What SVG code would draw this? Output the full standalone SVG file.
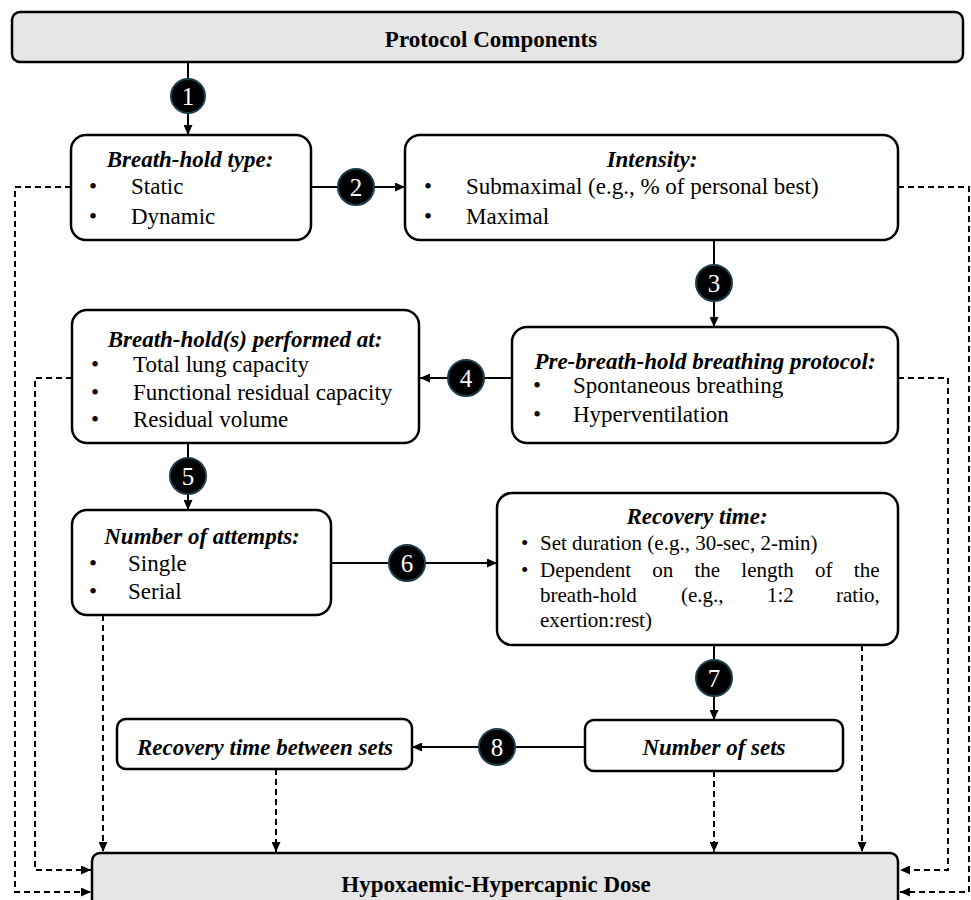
<svg xmlns="http://www.w3.org/2000/svg" width="971" height="900" viewBox="0 0 971 900">
<defs>
<marker id="ah" markerWidth="10" markerHeight="9" refX="10" refY="4.5" orient="auto" markerUnits="userSpaceOnUse">
<path d="M0,0 L10,4.5 L0,9 z" fill="#000"/>
</marker>
</defs>
<style>
.box{fill:#fff;stroke:#000;stroke-width:2.5}
.gbox{fill:#e6e6e6;stroke:#000;stroke-width:2.5}
.t{font-family:"Liberation Serif","Times New Roman",serif;font-size:23px;fill:#000}
.s{font-size:21px}
.h{font-weight:bold;font-style:italic}
.b{font-weight:bold}
.m{text-anchor:middle}
.ln{fill:none;stroke:#000;stroke-width:2;marker-end:url(#ah)}
.dl{fill:none;stroke:#000;stroke-width:2;stroke-dasharray:6 4;marker-end:url(#ah)}
.bd circle{fill:#000;stroke:#1e3d4a;stroke-width:2}
.bd text{font-family:"Liberation Serif","Times New Roman",serif;font-size:25px;fill:#fff;text-anchor:middle}
</style>
<g id="connectors">
<path class="ln" d="M188,62 V135"/>
<path class="ln" d="M311,187 H405"/>
<path class="ln" d="M714,240 V327"/>
<path class="ln" d="M512,378 H420"/>
<path class="ln" d="M188,443 V510"/>
<path class="ln" d="M331,563 H497"/>
<path class="ln" d="M714,645 V720"/>
<path class="ln" d="M585,747 H412"/>
<path class="dl" d="M71,187 H15 V892 H91"/>
<path class="dl" d="M72,378 H35 V870 H91"/>
<path class="dl" d="M103,615 V852"/>
<path class="dl" d="M276,769 V852"/>
<path class="dl" d="M714,771 V852"/>
<path class="dl" d="M862,645 V852"/>
<path class="dl" d="M898,187 H969 V892 H900"/>
<path class="dl" d="M898,378 H948 V870 H900"/>
</g>
<g id="protocol-components">
<rect class="gbox" x="12" y="12" width="951" height="50" rx="8"/>
<text class="t b m" x="491" y="47">Protocol Components</text>
</g>
<g id="breath-hold-type">
<rect class="box" x="71" y="135" width="240" height="105" rx="15"/>
<text class="t h m" x="190" y="167">Breath-hold type:</text>
<text class="t" x="89" y="194">•</text><text class="t" x="131" y="194">Static</text>
<text class="t" x="89" y="224">•</text><text class="t" x="131" y="224">Dynamic</text>
</g>
<g id="intensity">
<rect class="box" x="405" y="135" width="493" height="105" rx="15"/>
<text class="t h m" x="652" y="167">Intensity:</text>
<text class="t" x="424" y="194">•</text><text class="t" x="466" y="194">Submaximal (e.g., % of personal best)</text>
<text class="t" x="424" y="224">•</text><text class="t" x="466" y="224">Maximal</text>
</g>
<g id="performed-at">
<rect class="box" x="72" y="310" width="347" height="133" rx="15"/>
<text class="t h m" x="245" y="347">Breath-hold(s) performed at:</text>
<text class="t" x="91" y="372">•</text><text class="t" x="133" y="372">Total lung capacity</text>
<text class="t" x="91" y="400">•</text><text class="t" x="133" y="400">Functional residual capacity</text>
<text class="t" x="91" y="427">•</text><text class="t" x="133" y="427">Residual volume</text>
</g>
<g id="pre-breath-hold">
<rect class="box" x="512" y="327" width="386" height="116" rx="15"/>
<text class="t h m" x="705" y="369">Pre-breath-hold breathing protocol:</text>
<text class="t" x="533" y="393">•</text><text class="t" x="573" y="393">Spontaneous breathing</text>
<text class="t" x="533" y="422">•</text><text class="t" x="573" y="422">Hyperventilation</text>
</g>
<g id="number-of-attempts">
<rect class="box" x="72" y="510" width="259" height="105" rx="15"/>
<text class="t h m" x="202" y="544">Number of attempts:</text>
<text class="t" x="89" y="571">•</text><text class="t" x="128" y="571">Single</text>
<text class="t" x="89" y="599">•</text><text class="t" x="128" y="599">Serial</text>
</g>
<g id="recovery-time">
<rect class="box" x="497" y="493" width="401" height="152" rx="15"/>
<text class="t h m" x="697" y="524">Recovery time:</text>
<text class="t s" x="521" y="550">•</text><text class="t s" x="540" y="550">Set duration (e.g., 30-sec, 2-min)</text>
<text class="t s" x="521" y="577">•</text><text class="t s" x="540" y="577" style="word-spacing:16px">Dependent on the length of the</text>
<text class="t s" y="602"><tspan x="540">breath-hold</tspan><tspan x="681">(e.g.,</tspan><tspan x="767">1:2</tspan><tspan x="836">ratio,</tspan></text>
<text class="t s" x="540" y="627">exertion:rest)</text>
</g>
<g id="number-of-sets">
<rect class="box" x="585" y="720" width="258" height="51" rx="9"/>
<text class="t h m" x="714" y="755">Number of sets</text>
</g>
<g id="recovery-between-sets">
<rect class="box" x="117" y="719" width="295" height="50" rx="9"/>
<text class="t h m" x="265" y="755">Recovery time between sets</text>
</g>
<g id="dose">
<rect class="gbox" x="92" y="853" width="806" height="62" rx="8"/>
<text class="t b m" x="496" y="892">Hypoxaemic-Hypercapnic Dose</text>
</g>
<g id="badges">
<g class="bd"><circle cx="188" cy="96" r="17"/><text x="188" y="105">1</text></g>
<g class="bd"><circle cx="356" cy="187" r="18"/><text x="356" y="196">2</text></g>
<g class="bd"><circle cx="714" cy="283" r="18"/><text x="714" y="292">3</text></g>
<g class="bd"><circle cx="466" cy="378" r="18"/><text x="466" y="387">4</text></g>
<g class="bd"><circle cx="188" cy="476" r="18"/><text x="188" y="485">5</text></g>
<g class="bd"><circle cx="407" cy="563" r="18"/><text x="407" y="572">6</text></g>
<g class="bd"><circle cx="714" cy="678" r="18"/><text x="714" y="687">7</text></g>
<g class="bd"><circle cx="497" cy="747" r="18"/><text x="497" y="756">8</text></g>
</g>
</svg>
